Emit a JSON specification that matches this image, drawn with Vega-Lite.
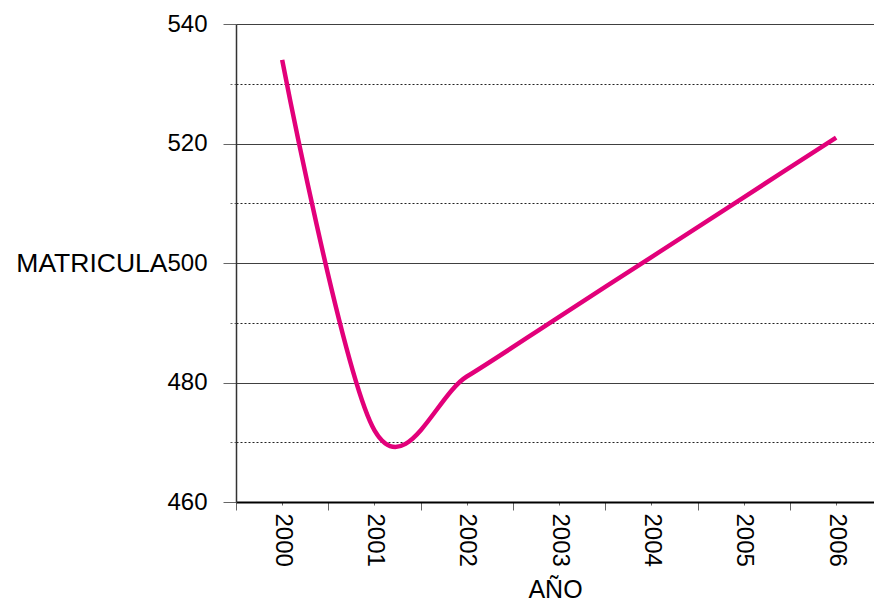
{
  "$schema": "https://vega.github.io/schema/vega-lite/v6.json",
  "autosize": {"type": "none"},
  "width": 638,
  "height": 478,
  "padding": {"left": 236, "top": 24, "right": 0, "bottom": 105},
  "background": "white",
  "config": {
    "view": {"stroke": null},
    "font": "Liberation Sans",
    "axis": {"labelFont": "Liberation Sans", "titleFont": "Liberation Sans", "labelColor": "black", "titleColor": "black", "titleFontWeight": "normal"}
  },
  "data": {
    "values": [
      {"year": 2000, "matricula": 534},
      {"year": 2001, "matricula": 472},
      {"year": 2002, "matricula": 481},
      {"year": 2003, "matricula": 491},
      {"year": 2004, "matricula": 501},
      {"year": 2005, "matricula": 511},
      {"year": 2006, "matricula": 521}
    ]
  },
  "mark": {"type": "line", "interpolate": "cardinal", "tension": 0, "color": "#E2007A", "strokeWidth": 4.5, "clip": false},
  "encoding": {
    "x": {
      "field": "year", "type": "quantitative",
      "scale": {"domain": [1999.5, 2006.41], "nice": false, "zero": false},
      "axis": {
        "title": "AÑO", "titleFontSize": 25, "titlePadding": 11,
        "values": [1999.5, 2000, 2000.5, 2001, 2001.5, 2002, 2002.5, 2003, 2003.5, 2004, 2004.5, 2005, 2005.5, 2006],
        "labelExpr": "datum.value % 1 == 0 ? format(datum.value, 'd') : ''",
        "labelAngle": 90, "labelAlign": "left", "labelBaseline": "middle",
        "labelFontSize": 24, "labelPadding": 8, "labelFlush": false, "labelOverlap": false,
        "grid": false,
        "domainColor": "black", "domainWidth": 2,
        "tickColor": "#666", "tickWidth": 1,
        "tickSize": {"condition": {"test": "datum.value % 1 == 0", "value": 3}, "value": 8}
      }
    },
    "y": {
      "field": "matricula", "type": "quantitative",
      "scale": {"domain": [460, 540], "nice": false, "zero": false},
      "axis": {
        "title": "MATRICULA", "titleFontSize": 26.5, "titleAngle": 0, "titleAlign": "right", "titleBaseline": "middle",
        "titleX": -69, "titleY": 239,
        "values": [460, 470, 480, 490, 500, 510, 520, 530, 540],
        "labelExpr": "datum.value % 20 == 0 ? format(datum.value, 'd') : ''",
        "labelFontSize": 24, "labelPadding": 16,
        "grid": true,
        "gridColor": {"condition": {"test": "datum.value % 20 == 0", "value": "#404040"}, "value": "#222"},
        "gridDash": {"condition": {"test": "datum.value % 20 == 0", "value": []}, "value": [2, 2]},
        "gridWidth": 1,
        "domainColor": "#333", "domainWidth": 1.5,
        "tickColor": "#666",
        "tickDash": {"condition": {"test": "datum.value % 20 == 0", "value": []}, "value": [2, 2]},
        "tickSize": {"condition": {"test": "datum.value % 20 == 0", "value": 13}, "value": 7}
      }
    }
  }
}
